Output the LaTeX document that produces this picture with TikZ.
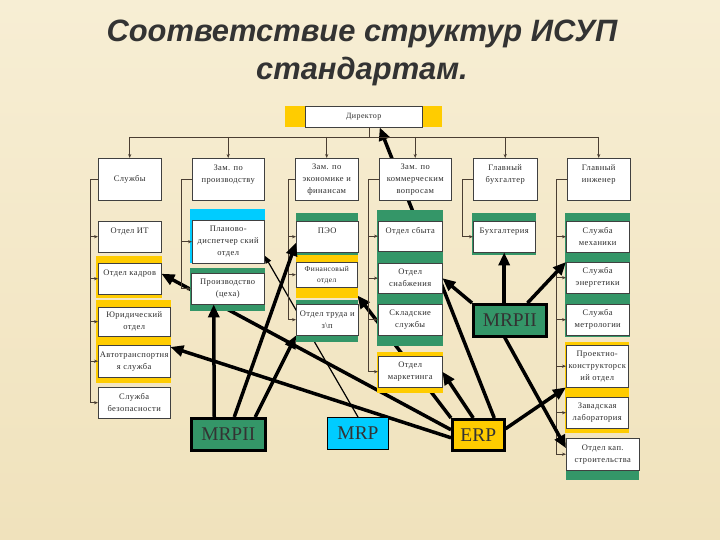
\documentclass[tikz,border=0pt]{standalone}
\usepackage{fontspec}
\setmainfont{Liberation Serif}
\newfontfamily\titlefont{Liberation Sans}
\newfontfamily\boxfont{Liberation Serif}[LetterSpace=5]
\usetikzlibrary{arrows.meta,positioning}
\pgfdeclarelayer{back}
\pgfdeclarelayer{lines}
\pgfsetlayers{back,lines,main}
\definecolor{bgtop}{RGB}{247,238,212}
\definecolor{bgbot}{RGB}{240,226,188}
\definecolor{bandgreen}{RGB}{52,150,104}
\definecolor{bandyellow}{RGB}{255,204,0}
\definecolor{bandcyan}{RGB}{0,204,255}
\definecolor{treeclr}{RGB}{74,62,50}
\definecolor{txtclr}{RGB}{45,45,45}

\begin{document}
\begin{tikzpicture}
[x=1bp, y=-1bp,
box/.style={draw=black!75, fill=white, anchor=north west, align=center, inner sep=0.5bp,
  text=txtclr, font=\boxfont\fontsize{8.5}{12}\selectfont},
sys/.style={draw=black, anchor=north west, inner sep=0pt, text=black!80,
  font=\fontsize{19.5}{20}\selectfont},
tree/.style={draw=treeclr, line width=0.7bp, -{Stealth[length=4bp,width=3.2bp]}},
treebus/.style={draw=treeclr, line width=0.7bp},
big/.style={line width=3.5bp, -{Triangle[length=13bp,width=11bp]}},
thinarrow/.style={line width=1.2bp, -{Triangle[length=8bp,width=6bp]}}
]
\begin{pgfonlayer}{back}
  \shade[top color=bgtop, bottom color=bgbot] (0,0) rectangle (720,540);
\end{pgfonlayer}

  \node[anchor=base, text=black!80, font=\titlefont\bfseries\itshape\fontsize{31}{33}\selectfont]
    (title1) at (362,42) {Соответствие структур ИСУП};
  \node[anchor=base, text=black!80, font=\titlefont\bfseries\itshape\fontsize{31}{33}\selectfont]
    (title2) at (362,80) {стандартам.};

  % director
  \fill[bandyellow] (285,106) rectangle (442,127);
  \node[box, minimum width=117bp, minimum height=21bp, font=\boxfont\fontsize{8}{9}\selectfont]
    (dir) at (305,106) {Директор};

  % heads
  \node[box, minimum width=63bp, minimum height=42bp] (sluzhby)   at (98,158)  {Службы};
  \node[box, minimum width=72bp, minimum height=42bp] (zamproizv) at (192,158) {Зам. по\\производству\\~};
  \node[box, minimum width=63bp, minimum height=42bp] (zamecon)   at (295,158) {Зам. по\\экономике и\\финансам};
  \node[box, minimum width=72bp, minimum height=42bp] (zamkomm)   at (379,158) {Зам. по\\коммерческим\\вопросам};
  \node[box, minimum width=64bp, minimum height=42bp] (glbuh)     at (473,158) {Главный\\бухгалтер\\~};
  \node[box, minimum width=63bp, minimum height=42bp] (glinzh)    at (567,158) {Главный\\инженер\\~};

  % column 1
  \fill[bandyellow] (96,256) rectangle (162,298);
  \fill[bandyellow] (96,300) rectangle (171,383);
  \node[box, minimum width=63bp, minimum height=31bp] (it)    at (98,221) {Отдел ИТ\\~};
  \node[box, minimum width=63bp, minimum height=31bp] (kadry) at (98,263) {Отдел кадров\\~};
  \node[box, minimum width=72bp, minimum height=29bp] (yurid) at (98,307) {Юридический\\отдел};
  \node[box, minimum width=72bp, minimum height=32bp] (avto)  at (98,345) {Автотранспортня\\я служба};
  \node[box, minimum width=72bp, minimum height=31bp] (bezop) at (98,387) {Служба\\безопасности};

  % column 2
  \fill[bandcyan] (190,209) rectangle (265,263);
  \fill[bandgreen] (190,268) rectangle (265,311);
  \node[box, minimum width=72bp, minimum height=43bp] (plan)   at (192,220) {Планово-\\диспетчер ский\\отдел};
  \node[box, minimum width=73bp, minimum height=31bp] (proizv) at (191,273) {Производство\\(цеха)};

  % column 3
  \fill[bandgreen] (296,213) rectangle (358,256);
  \fill[bandyellow] (296,255) rectangle (358,298);
  \fill[bandgreen] (296,300) rectangle (358,342);
  \node[box, minimum width=62bp, minimum height=31bp] (peo)  at (296,221) {ПЭО\\~};
  \node[box, minimum width=61bp, minimum height=25bp, font=\boxfont\fontsize{7.5}{11}\selectfont]
    (fin) at (296,262) {Финансовый\\отдел};
  \node[box, minimum width=62bp, minimum height=31bp] (trud) at (296,304) {Отдел труда и\\з\textbackslash п};

  % column 4
  \fill[bandgreen] (377,210) rectangle (443,346);
  \fill[bandyellow] (377,352) rectangle (443,393);
  \node[box, minimum width=64bp, minimum height=30bp] (sbyt)   at (378,221) {Отдел сбыта\\~};
  \node[box, minimum width=64bp, minimum height=30bp] (snab)   at (378,263) {Отдел\\снабжения};
  \node[box, minimum width=64bp, minimum height=31bp] (sklad)  at (378,304) {Складские\\службы};
  \node[box, minimum width=64bp, minimum height=31bp] (market) at (378,356) {Отдел\\маркетинга};

  % column 5
  \fill[bandgreen] (472,213) rectangle (536,255);
  \node[box, minimum width=62bp, minimum height=31bp] (buh) at (473,221) {Бухгалтерия\\~};

  % column 6
  \fill[bandgreen] (565,213) rectangle (630,337);
  \fill[bandyellow] (565,342) rectangle (629,433);
  \fill[bandgreen] (566,440) rectangle (639,480);
  \node[box, minimum width=63bp, minimum height=31bp] (mekh)   at (566,221) {Служба\\механики};
  \node[box, minimum width=63bp, minimum height=31bp] (energ)  at (566,262) {Служба\\энергетики};
  \node[box, minimum width=63bp, minimum height=31bp] (metr)   at (566,304) {Служба\\метрологии};
  \node[box, minimum width=62bp, minimum height=42bp] (proekt) at (566,345) {Проектно-\\конструкторск\\ий отдел};
  \node[box, minimum width=62bp, minimum height=31bp] (lab)    at (566,397) {Завадская\\лаборатория};
  \node[box, minimum width=73bp, minimum height=32bp] (kap)    at (566,438) {Отдел кап.\\строительства};

  % systems
  \node[sys, fill=bandgreen, line width=2.5bp, minimum width=74bp, minimum height=32bp] (mrpiiL) at (190,417) {MRPII};
  \node[sys, fill=bandcyan, line width=1bp, minimum width=61bp, minimum height=32bp]    (mrp)    at (327,417) {MRP};
  \node[sys, fill=bandyellow, line width=2.5bp, minimum width=52bp, minimum height=31bp] (erp)   at (451,418) {ERP};
  \node[sys, fill=bandgreen, line width=2.5bp, minimum width=73bp, minimum height=32bp] (mrpiiR) at (472,303) {MRPII};

  % tree
  \coordinate (dirbus) at (369,137);
  \draw[treebus] (dir.south -| dirbus) -- (dirbus);
  \draw[treebus] (sluzhby.north |- dirbus) -- (glinzh.north |- dirbus);
  \foreach \h in {sluzhby,zamproizv,zamecon,zamkomm,glbuh,glinzh}
    \draw[tree] (\h.north |- dirbus) -- (\h.north);

  \coordinate (v1) at (90,178);
  \coordinate (v2) at (181,178);
  \coordinate (v3) at (288,178);
  \coordinate (v4) at (368,178);
  \coordinate (v5) at (462,178);
  \coordinate (v6) at (556,178);
  \draw[treebus] (sluzhby.west) -- (sluzhby.west -| v1) -- (v1 |- bezop.west);
  \foreach \c in {it,kadry,yurid,avto,bezop}
    \draw[tree] (v1 |- \c.west) -- (\c.west);
  \draw[treebus] (zamproizv.west) -- (zamproizv.west -| v2) -- (v2 |- proizv.west);
  \foreach \c in {plan,proizv}
    \draw[tree] (v2 |- \c.west) -- (\c.west);
  \draw[treebus] (zamecon.west) -- (zamecon.west -| v3) -- (v3 |- trud.west);
  \foreach \c in {peo,fin,trud}
    \draw[tree] (v3 |- \c.west) -- (\c.west);
  \draw[treebus] (zamkomm.west) -- (zamkomm.west -| v4) -- (v4 |- market.west);
  \foreach \c in {sbyt,snab,sklad,market}
    \draw[tree] (v4 |- \c.west) -- (\c.west);
  \draw[treebus] (glbuh.west) -- (glbuh.west -| v5) -- (v5 |- buh.west);
  \draw[tree] (v5 |- buh.west) -- (buh.west);
  \draw[treebus] (glinzh.west) -- (glinzh.west -| v6) -- (v6 |- kap.west);
  \foreach \c in {mekh,energ,metr,proekt,lab,kap}
    \draw[tree] (v6 |- \c.west) -- (\c.west);

  % links behind the boxes
\begin{pgfonlayer}{lines}
  \draw[big] ([yshift=5bp]erp.west) -- ([yshift=5bp]kadry.east);
  \draw[big] ([yshift=-3bp]erp.west) -- ([yshift=-2bp]avto.north east);
  \draw[big] (erp.north west) -- ([yshift=-8bp]fin.south east);
  \draw[big] ([xshift=16bp]erp.north) -- ([xshift=16bp]dir.south);
  \draw[thinarrow] (mrp.north) -- ([yshift=8bp]plan.south east);
\end{pgfonlayer}

  % links on top
  \draw[big] ([xshift=-14bp]mrpiiL.north) -- ([xshift=-14bp]proizv.south);
  \draw[big] ([xshift=6bp]mrpiiL.north) -- ([yshift=-6bp]peo.west);
  \draw[big] ([xshift=27bp]mrpiiL.north) -- (trud.south west);
  \draw[big] ([xshift=-5bp]erp.north) -- (market.east);
  \draw[big] ([yshift=6bp]erp.east) -- (proekt.south west);
  \draw[big] (mrpiiR.north west) -- (snab.east);
  \draw[big] (buh.south |- mrpiiR.north) -- (buh.south);
  \draw[big] ([xshift=-20bp]mrpiiR.north east) -- (energ.north west);
  \draw[big] ([xshift=-5bp]mrpiiR.south) -- ([yshift=6bp]kap.west);
\end{tikzpicture}
\end{document}
